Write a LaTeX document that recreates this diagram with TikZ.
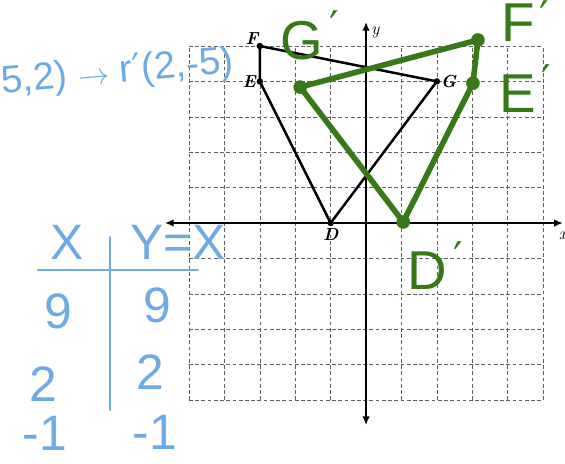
\documentclass[tikz,border=0pt]{standalone}
\usepackage{fontspec}
\setsansfont{Liberation Sans}
\newfontfamily\primefont{DejaVu Sans}
\usetikzlibrary{arrows.meta}
\definecolor{gridgray}{RGB}{95,95,95}
\definecolor{penblue}{RGB}{110,170,230}
\definecolor{pengreen}{RGB}{55,120,25}

\tikzset{
  vlabel/.style={font=\bfseries\itshape\fontsize{14}{14}\selectfont, inner sep=1pt},
  greenlbl/.style={font=\sffamily\fontsize{44}{44}\selectfont, text=pengreen, inner sep=0pt},
  bluetxt/.style={font=\sffamily\fontsize{40}{40}\selectfont, text=penblue, inner sep=0pt},
}
\newcommand{\hprime}[1]{#1\hspace{5pt}\raisebox{14pt}{\primefont\fontsize{34}{34}\selectfont ′}}

\begin{document}
\begin{tikzpicture}
  \useasboundingbox (-10.34,-6.78) rectangle (5.62,6.30);
  % grid
  \foreach \k in {-5,...,5}{
    \draw[gridgray,densely dashed,line width=0.5pt] (\k,-5)--(\k,5);
    \draw[gridgray,densely dashed,line width=0.5pt] (-5,\k)--(5,\k);}
  % axes
  \draw[{Latex[length=7pt,width=6pt]}-{Latex[length=7pt,width=6pt]},line width=1.3pt] (-5.68,0)--(5.56,0) node[below=3pt,font=\itshape\fontsize{14}{14}\selectfont] (xlbl) {x};
  \draw[{Latex[length=7pt,width=6pt]}-{Latex[length=7pt,width=6pt]},line width=1.3pt] (0,-5.71)--(0,5.68) node[below right=0pt,font=\itshape\fontsize{14}{14}\selectfont] (ylbl) {y};

  % original figure DEFG
  \coordinate (D) at (-1,0);
  \coordinate (E) at (-3,4);
  \coordinate (F) at (-3,5);
  \coordinate (G) at (2,4);
  \draw[line width=2pt,line join=round] (F)--(G)--(D)--(E)--cycle;
  \foreach \p in {D,E,F,G}{
    \fill (\p) circle (2.6pt);}
  \node[vlabel,below=3pt] (lblD) at (D) {D};
  \node[vlabel,left=2pt] (lblE) at (E) {E};
  \node[vlabel,above left=0pt] (lblF) at (F) {F};
  \node[vlabel,right=2pt] (lblG) at (G) {G};

  % image after reflection
  \coordinate (Dp) at (1.05,0.03);
  \coordinate (Ep) at (3.02,3.95);
  \coordinate (Fp) at (3.16,5.17);
  \coordinate (Gp) at (-1.86,3.84);
  \draw[pengreen,line width=4.5pt,line join=round,line cap=round] (Gp)--(Fp)--(Ep)--(Dp)--cycle;
  \foreach \p in {Dp,Ep,Fp,Gp}{
    \fill[pengreen] (\p) circle (5.5pt);}
  \node[greenlbl] (lblGp) at (-1.6,5.3) {\hprime{G}};
  \node[greenlbl] (lblFp) at (4.5,5.7) {F\hspace{3pt}\raisebox{8pt}{\primefont\fontsize{34}{34}\selectfont ′}};
  \node[greenlbl] (lblEp) at (4.5,3.8) {\hprime{E}};
  \node[greenlbl] (lblDp) at (1.95,-1.2) {\hprime{D}};

  % notes in blue
  \node[bluetxt,font=\sffamily\fontsize{31}{31}\selectfont,anchor=west,rotate=5] (rule) at (-10.3,3.95) {5,2) $\rightarrow$ r{\primefont′}(2,-5)};
  \draw[penblue,line width=2.2pt,line cap=round] (-9.27,-1.33)--(-4.75,-1.33);
  \draw[penblue,line width=2.2pt,line cap=round] (-7.23,-0.40)--(-7.23,-5.28);
  \node[bluetxt] (hx) at (-8.45,-0.56) {X};
  \node[bluetxt] (hy) at (-5.31,-0.56) {Y=X};
  \node[bluetxt] (x1) at (-8.70,-2.50) {9};
  \node[bluetxt] (y1) at (-5.90,-2.32) {9};
  \node[bluetxt] (x2) at (-9.12,-4.55) {2};
  \node[bluetxt] (y2) at (-6.10,-4.21) {2};
  \node[bluetxt] (x3) at (-9.07,-5.95) {-1};
  \node[bluetxt] (y3) at (-5.96,-5.90) {-1};
\end{tikzpicture}
\end{document}
